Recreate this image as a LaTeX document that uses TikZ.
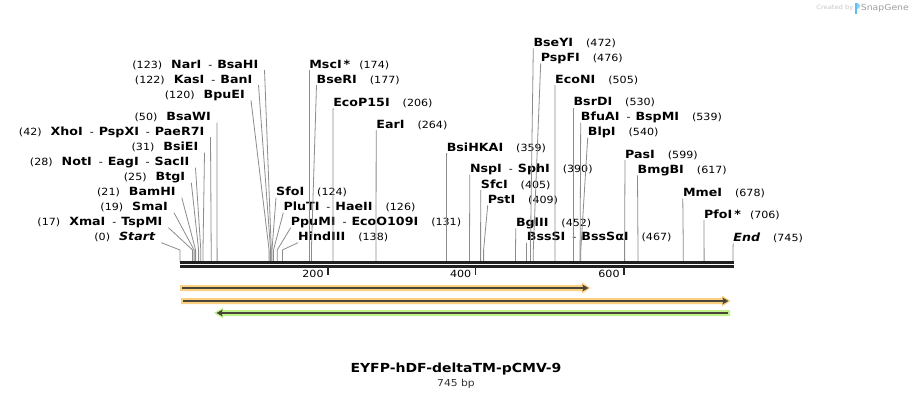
\documentclass[tikz,border=0pt]{standalone}
\usepackage{fontspec}
\setmainfont[FakeStretch=1.12]{DejaVu Sans}
\usetikzlibrary{arrows.meta}

\definecolor{featorange}{HTML}{FCD083}
\definecolor{featgreen}{HTML}{BFF28B}
\definecolor{featline}{HTML}{4A4539}
\definecolor{cutgray}{HTML}{8C8C8C}
\definecolor{logoblue}{HTML}{5CBFEF}

\newcommand{\enzname}[1]{{\fontsize{11.3}{13}\selectfont\bfseries #1}}
\newcommand{\enzdash}{\hspace{7pt}-\hspace{5pt}}
\newcommand{\numgap}{\hspace{9pt}}
\newcommand{\posgap}{\hspace{13pt}}

\tikzset{
  enz/.style={font=\fontsize{9.9}{12}\selectfont, inner sep=0pt},
  enzleft/.style={enz, anchor=base east},
  enzright/.style={enz, anchor=base west},
  cutline/.style={cutgray, line width=0.8pt},
  backbone/.style={black!87, line width=2.7pt},
  tickmark/.style={black!85, line width=1.6pt},
  feature/.style={featline, line width=1.7pt, -{Stealth[length=6pt,width=6.5pt,inset=1pt]}},
}

\begin{document}
\begin{tikzpicture}[x=1pt,y=-1pt]
	\useasboundingbox (0,0) rectangle (914,400);
	\fill[white] (0,0) rectangle (914,400);
	
	% cut sites
	\coordinate (s0) at (180,262);
	\coordinate (s17) at (192.6,262);
	\coordinate (s19) at (194.1,262);
	\coordinate (s21) at (195.6,262);
	\coordinate (s25) at (198.6,262);
	\coordinate (s28) at (200.8,262);
	\coordinate (s31) at (203.0,262);
	\coordinate (s42) at (211.2,262);
	\coordinate (s50) at (217.1,262);
	\coordinate (s120) at (269.1,262);
	\coordinate (s122) at (270.6,262);
	\coordinate (s123) at (271.3,262);
	\coordinate (s124) at (272.0,262);
	\coordinate (s126) at (273.5,262);
	\coordinate (s131) at (277.2,262);
	\coordinate (s138) at (282.4,262);
	\coordinate (s174) at (309.2,262);
	\coordinate (s177) at (311.4,262);
	\coordinate (s206) at (332.9,262);
	\coordinate (s264) at (376.0,262);
	\coordinate (s359) at (446.5,262);
	\coordinate (s390) at (469.5,262);
	\coordinate (s405) at (480.6,262);
	\coordinate (s409) at (483.6,262);
	\coordinate (s452) at (515.5,262);
	\coordinate (s467) at (526.7,262);
	\coordinate (s472) at (530.4,262);
	\coordinate (s476) at (533.3,262);
	\coordinate (s505) at (554.9,262);
	\coordinate (s530) at (573.4,262);
	\coordinate (s539) at (580.1,262);
	\coordinate (s540) at (580.8,262);
	\coordinate (s599) at (624.6,262);
	\coordinate (s617) at (638.0,262);
	\coordinate (s678) at (683.3,262);
	\coordinate (s706) at (704.1,262);
	\coordinate (s745) at (733.0,262);
	
	% labels on the left
	\node[enzleft] (narI) at (258.5,68) {(123)\numgap\enzname{NarI}\enzdash\enzname{BsaHI}};
	\node[enzleft] (kasI) at (252.5,83) {(122)\numgap\enzname{KasI}\enzdash\enzname{BanI}};
	\node[enzleft] (bpuEI) at (245,98.3) {(120)\numgap\enzname{BpuEI}};
	\node[enzleft] (bsaWI) at (211,120.7) {(50)\numgap\enzname{BsaWI}};
	\node[enzleft] (xhoI) at (204.5,135) {(42)\numgap\enzname{XhoI}\enzdash\enzname{PspXI}\enzdash\enzname{PaeR7I}};
	\node[enzleft] (bsiEI) at (198.5,150.7) {(31)\numgap\enzname{BsiEI}};
	\node[enzleft] (notI) at (189.5,165.7) {(28)\numgap\enzname{NotI}\enzdash\enzname{EagI}\enzdash\enzname{SacII}};
	\node[enzleft] (btgI) at (185.3,180.7) {(25)\numgap\enzname{BtgI}};
	\node[enzleft] (bamHI) at (175.8,195.7) {(21)\numgap\enzname{BamHI}};
	\node[enzleft] (smaI) at (168,210.7) {(19)\numgap\enzname{SmaI}};
	\node[enzleft] (xmaI) at (162.5,225.7) {(17)\numgap\enzname{XmaI}\enzdash\enzname{TspMI}};
	\node[enzleft] (startlbl) at (155.3,240.7) {(0)\numgap\enzname{\itshape Start}};
	
	% labels on the right
	\node[enzright] (sfoI) at (276,195.7) {\enzname{SfoI}\posgap(124)};
	\node[enzright] (pluTI) at (283.3,210.7) {\enzname{PluTI}\enzdash\enzname{HaeII}\posgap(126)};
	\node[enzright] (ppuMI) at (290.7,225.7) {\enzname{PpuMI}\enzdash\enzname{EcoO109I}\posgap(131)};
	\node[enzright] (hindIII) at (298,240.7) {\enzname{HindIII}\posgap(138)};
	\node[enzright] (mscI) at (309.2,68) {\enzname{MscI\hspace{2pt}*}\hspace{9pt}(174)};
	\node[enzright] (bseRI) at (316.5,83) {\enzname{BseRI}\posgap(177)};
	\node[enzright] (ecoP15I) at (333.1,106.3) {\enzname{EcoP15I}\posgap(206)};
	\node[enzright] (earI) at (376.2,128) {\enzname{EarI}\posgap(264)};
	\node[enzright] (bsiHKAI) at (446.6,151) {\enzname{BsiHKAI}\posgap(359)};
	\node[enzright] (nspI) at (469.8,172.5) {\enzname{NspI}\enzdash\enzname{SphI}\posgap(390)};
	\node[enzright] (sfcI) at (480.7,188) {\enzname{SfcI}\posgap(405)};
	\node[enzright] (pstI) at (487.7,203.3) {\enzname{PstI}\posgap(409)};
	\node[enzright] (bglII) at (515.8,226.3) {\enzname{BglII}\posgap(452)};
	\node[enzright] (bssSI) at (526.7,240.7) {\enzname{BssSI}\enzdash\enzname{BssSαI}\posgap(467)};
	\node[enzright] (bseYI) at (533.3,46.3) {\enzname{BseYI}\posgap(472)};
	\node[enzright] (pspFI) at (540.7,61.3) {\enzname{PspFI}\posgap(476)};
	\node[enzright] (ecoNI) at (555,83) {\enzname{EcoNI}\posgap(505)};
	\node[enzright] (bsrDI) at (573.4,105.7) {\enzname{BsrDI}\posgap(530)};
	\node[enzright] (bfuAI) at (580.7,120.7) {\enzname{BfuAI}\enzdash\enzname{BspMI}\posgap(539)};
	\node[enzright] (blpI) at (587.7,135.7) {\enzname{BlpI}\posgap(540)};
	\node[enzright] (pasI) at (625,158) {\enzname{PasI}\posgap(599)};
	\node[enzright] (bmgBI) at (637.5,173.3) {\enzname{BmgBI}\posgap(617)};
	\node[enzright] (mmeI) at (682.8,196.7) {\enzname{MmeI}\posgap(678)};
	\node[enzright] (pfoI) at (704,218) {\enzname{PfoI\hspace{2pt}*}\hspace{9pt}(706)};
	\node[enzright] (endlbl) at (733.2,241.3) {\enzname{\itshape End}\posgap(745)};
	
	% connectors
	\foreach \lbl/\site in {narI/s123, kasI/s122, bpuEI/s120, bsaWI/s50, xhoI/s42, bsiEI/s31,
	    notI/s28, btgI/s25, bamHI/s21, smaI/s19, xmaI/s17, startlbl/s0}
	  \draw[cutline] ([shift={(6,2)}]\lbl.base east) -- ([yshift=12pt]\site) -- (\site);
	\foreach \lbl/\site in {sfoI/s124, pluTI/s126, ppuMI/s131, hindIII/s138, mscI/s174, bseRI/s177,
	    ecoP15I/s206, earI/s264, bsiHKAI/s359, nspI/s390, sfcI/s405, pstI/s409, bglII/s452,
	    bssSI/s467, bseYI/s472, pspFI/s476, ecoNI/s505, bsrDI/s530, bfuAI/s539, blpI/s540,
	    pasI/s599, bmgBI/s617, mmeI/s678, pfoI/s706, endlbl/s745}
	  \draw[cutline] ([shift={(0,2)}]\lbl.base west) -- ([yshift=12pt]\site) -- (\site);
	
	% backbone and scale
	\coordinate (bbL) at (180,262.3);
	\coordinate (bbR) at (733.5,262.3);
	\draw[backbone] (bbL) -- (bbR);
	\draw[backbone] ([yshift=-4.1pt]bbL) -- ([yshift=-4.1pt]bbR);
	
	\coordinate (t200) at (327.8,267.7);
	\coordinate (t400) at (475.5,267.7);
	\coordinate (t600) at (623.8,267.7);
	\draw[tickmark] (t200) -- ([yshift=-7pt]t200);
	\draw[tickmark] (t400) -- ([yshift=-7pt]t400);
	\draw[tickmark] (t600) -- ([yshift=-7pt]t600);
	\node[enz, anchor=base east] (l200) at (323.8,277.5) {200};
	\node[enz, anchor=base east] (l400) at (471.5,277.5) {400};
	\node[enz, anchor=base east] (l600) at (619.8,277.5) {600};
	
	% features
	\fill[featorange] (180,285) -- (582,285) -- (582,282.5) -- (590.5,288) -- (582,293.5) -- (582,291) -- (180,291) -- cycle;
	\draw[feature] (182,288) -- (588.5,288);
	\fill[featorange] (181,298) -- (722,298) -- (722,295.5) -- (730.5,301) -- (722,306.5) -- (722,304) -- (181,304) -- cycle;
	\draw[feature] (183,301) -- (728.5,301);
	\fill[featgreen] (730,310) -- (223,310) -- (223,307.8) -- (214,313) -- (223,318.2) -- (223,316) -- (730,316) -- cycle;
	\draw[feature] (728,313) -- (216.5,313);
	
	% title
	\node[font=\fontsize{12.5}{15}\selectfont\bfseries] (title) at (456,369) {EYFP-hDF-deltaTM-pCMV-9};
	\node[font=\fontsize{9.6}{11}\selectfont, text=black!80] (size) at (456,384) {745 bp};
	
	% watermark
	\node[font=\fontsize{6}{7}\selectfont, text=black!22, anchor=east, inner sep=0pt] (created) at (853.5,8) {Created by};
	\fill[logoblue] (855.3,2.5) rectangle (857.2,13.5);
	\fill[logoblue!70] (857.2,2.5) .. controls (860.6,2.5) and (860.6,8.8) .. (857.2,8.8) -- cycle;
	\node[font=\fontsize{8.3}{10}\selectfont, text=black!38, anchor=west, inner sep=0pt] (snapgene) at (860.7,8) {SnapGene};
	
\end{tikzpicture}
\end{document}
